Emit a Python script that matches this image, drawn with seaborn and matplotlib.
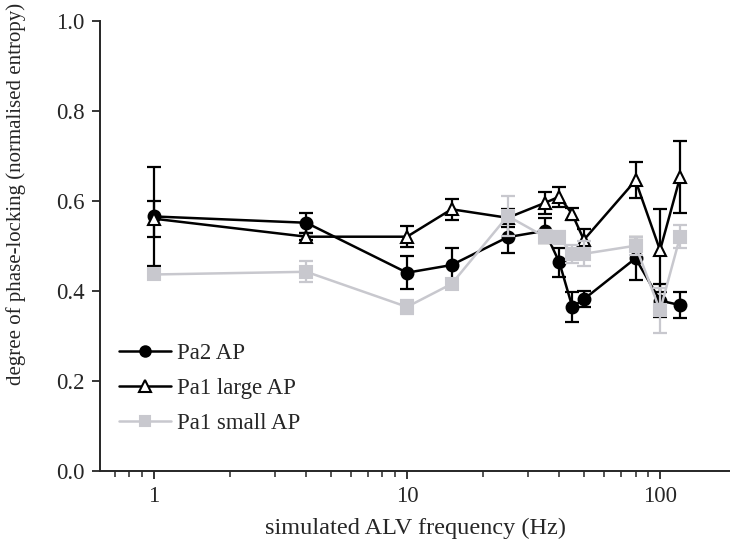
import numpy as np
import pandas as pd
import matplotlib
matplotlib.use("Agg")
import matplotlib.pyplot as plt
import seaborn as sns
from matplotlib.lines import Line2D

# ---- data ----
freq = [1, 4, 10, 15, 25, 35, 40, 45, 50, 80, 100, 120]

pa2_ap = [0.565, 0.551, 0.440, 0.457, 0.519, 0.533, 0.463, 0.364, 0.381, 0.472, 0.378, 0.368]
pa2_err = [0.110, 0.022, 0.037, 0.037, 0.035, 0.028, 0.032, 0.033, 0.018, 0.048, 0.037, 0.028]

pa1_large = [0.560, 0.520, 0.520, 0.581, 0.562, 0.595, 0.609, 0.570, 0.513, 0.645, 0.490, 0.652]
pa1_large_err = [0.040, 0.008, 0.023, 0.023, 0.020, 0.025, 0.022, 0.013, 0.025, 0.040, 0.092, 0.080]

pa1_small = [0.436, 0.442, 0.364, 0.415, 0.566, 0.520, 0.518, 0.482, 0.482, 0.500, 0.356, 0.520]
pa1_small_err = [0.010, 0.023, 0.015, 0.012, 0.045, 0.015, 0.015, 0.020, 0.028, 0.020, 0.050, 0.026]

series_names = ["Pa2 AP", "Pa1 large AP", "Pa1 small AP"]

df = pd.concat([
    pd.DataFrame({"freq": freq, "value": pa2_ap, "err": pa2_err, "series": series_names[0]}),
    pd.DataFrame({"freq": freq, "value": pa1_large, "err": pa1_large_err, "series": series_names[1]}),
    pd.DataFrame({"freq": freq, "value": pa1_small, "err": pa1_small_err, "series": series_names[2]}),
], ignore_index=True)

# ---- style ----
sns.set_style("ticks")
plt.rcParams["font.family"] = ["Liberation Serif", "DejaVu Serif"]

gray = "#c8c8ce"
colors = {"Pa2 AP": "black", "Pa1 large AP": "black", "Pa1 small AP": gray}
markers = {"Pa2 AP": "o", "Pa1 large AP": "^", "Pa1 small AP": "s"}
mfc = {"Pa2 AP": "black", "Pa1 large AP": "white", "Pa1 small AP": gray}
msize = {"Pa2 AP": 8.5, "Pa1 large AP": 9, "Pa1 small AP": 8}

fig = plt.figure(figsize=(7.30, 5.46), dpi=100)
ax = fig.add_axes([0.137, 0.138, 0.863, 0.824])

# gray series last so it sits on top, as in the reference
for k, name in enumerate(series_names):
    sub = df[df["series"] == name]
    ax.errorbar(sub["freq"], sub["value"], yerr=sub["err"], fmt="none",
                ecolor=colors[name], elinewidth=1.6, capsize=5, capthick=1.6,
                zorder=2 + 2 * k)
    sns.lineplot(data=sub, x="freq", y="value", ax=ax, color=colors[name],
                 marker=markers[name], markersize=msize[name],
                 markerfacecolor=mfc[name], markeredgecolor=colors[name],
                 markeredgewidth=1.5, linewidth=1.8, legend=False,
                 zorder=3 + 2 * k)

ax.set_xscale("log")
ax.set_xlim(0.612, 189)
ax.set_ylim(0, 1.0)
ax.set_xticks([1, 10, 100])
ax.set_xticklabels(["1", "10", "100"])
ax.set_yticks([0, 0.2, 0.4, 0.6, 0.8, 1.0])
ax.set_yticklabels(["0.0", "0.2", "0.4", "0.6", "0.8", "1.0"])
ax.tick_params(axis="both", which="major", length=6, width=1.3, labelsize=16.5,
               direction="out", pad=5)
ax.tick_params(axis="x", which="minor", length=4, width=1.1, direction="out")

for side in ["top", "right"]:
    ax.spines[side].set_visible(False)
for side in ["left", "bottom"]:
    ax.spines[side].set_linewidth(1.4)

ax.set_xlabel("simulated ALV frequency (Hz)", fontsize=17.5, labelpad=8)
ax.set_ylabel("degree of phase-locking (normalised entropy)", fontsize=15)
ax.yaxis.set_label_coords(-0.118, 0.615)

handles = [
    Line2D([], [], color=colors[n], marker=markers[n], markersize=msize[n] - 1,
           markerfacecolor=mfc[n], markeredgecolor=colors[n], markeredgewidth=1.5,
           linewidth=1.8)
    for n in series_names
]
ax.legend(handles, series_names, loc="upper left", bbox_to_anchor=(0.015, 0.305),
          frameon=False, fontsize=16.5, handlelength=2.3, handletextpad=0.25,
          labelspacing=0.62, borderaxespad=0)

fig.savefig("out.png", dpi=100)
